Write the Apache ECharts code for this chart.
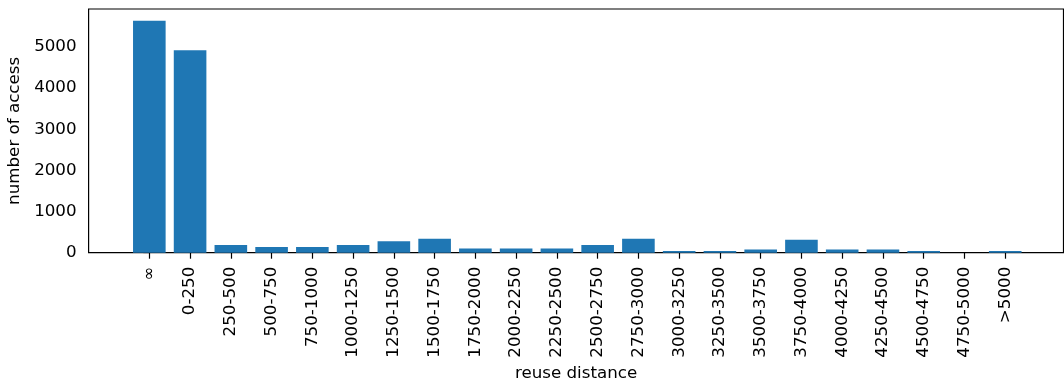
<!DOCTYPE html>
<html>
<head>
<meta charset="utf-8">
<script src="https://cdn.jsdelivr.net/npm/echarts@6/dist/echarts.min.js"></script>
<style>
html,body{margin:0;padding:0;background:#fff;}
#c{width:1064px;height:388px;}
</style>
</head>
<body>
<div id="c"></div>
<script>
var categories = ['\u221e','0-250','250-500','500-750','750-1000','1000-1250','1250-1500','1500-1750','1750-2000','2000-2250','2250-2500','2500-2750','2750-3000','3000-3250','3250-3500','3500-3750','3750-4000','4000-4250','4250-4500','4500-4750','4750-5000','>5000'];
var accessCounts = [5635, 4920, 190, 140, 140, 190, 280, 340, 105, 105, 105, 190, 340, 40, 40, 75, 316, 75, 75, 40, 0, 40];
var yTicks = [0, 1000, 2000, 3000, 4000, 5000];

var xPositions = categories.map(function(c, i){ return i; });
var barData = accessCounts.map(function(v, i){ return [xPositions[i], v]; });

var FONT = 'DejaVu Sans';
var FS = 16.7;
var chart = echarts.init(document.getElementById('c'), null, {renderer: 'canvas'});
chart.setOption({
  animation: false,
  backgroundColor: '#fff',
  grid: {
    left: 88.6, top: 9, width: 974.9, height: 243.7,
    show: true, borderColor: '#000', borderWidth: 1.2, backgroundColor: 'transparent',
    containLabel: false,
    outerBoundsMode: 'none'
  },
  xAxis: {
    type: 'value',
    min: -1.49, max: 22.43,
    name: 'reuse distance',
    nameLocation: 'middle',
    nameGap: 108,
    nameTextStyle: {fontFamily: FONT, fontSize: FS, color: '#000'},
    axisLine: {show: false},
    splitLine: {show: false},
    axisTick: {show: true, length: 6, lineStyle: {color: '#000', width: 1.2}, customValues: xPositions},
    axisLabel: {
      show: true, rotate: 90, margin: 14,
      customValues: xPositions,
      fontFamily: FONT, fontSize: FS, color: '#000',
      formatter: function(v){ return categories[Math.round(v)]; }
    }
  },
  yAxis: {
    type: 'value',
    min: 0, max: 5920,
    name: 'number of access',
    nameLocation: 'middle',
    nameGap: 64,
    nameTextStyle: {fontFamily: FONT, fontSize: FS, color: '#000'},
    axisLine: {show: false},
    splitLine: {show: false},
    axisTick: {show: true, length: 6, lineStyle: {color: '#000', width: 1.2}, customValues: yTicks},
    axisLabel: {
      show: true, margin: 12, customValues: yTicks,
      fontFamily: FONT, fontSize: FS, color: '#000',
      formatter: function(v){ return String(v); }
    }
  },
  series: [{
    type: 'bar',
    data: barData,
    barWidth: 32.6,
    itemStyle: {color: '#1f77b4'},
    silent: true
  }]
});
</script>
</body>
</html>
